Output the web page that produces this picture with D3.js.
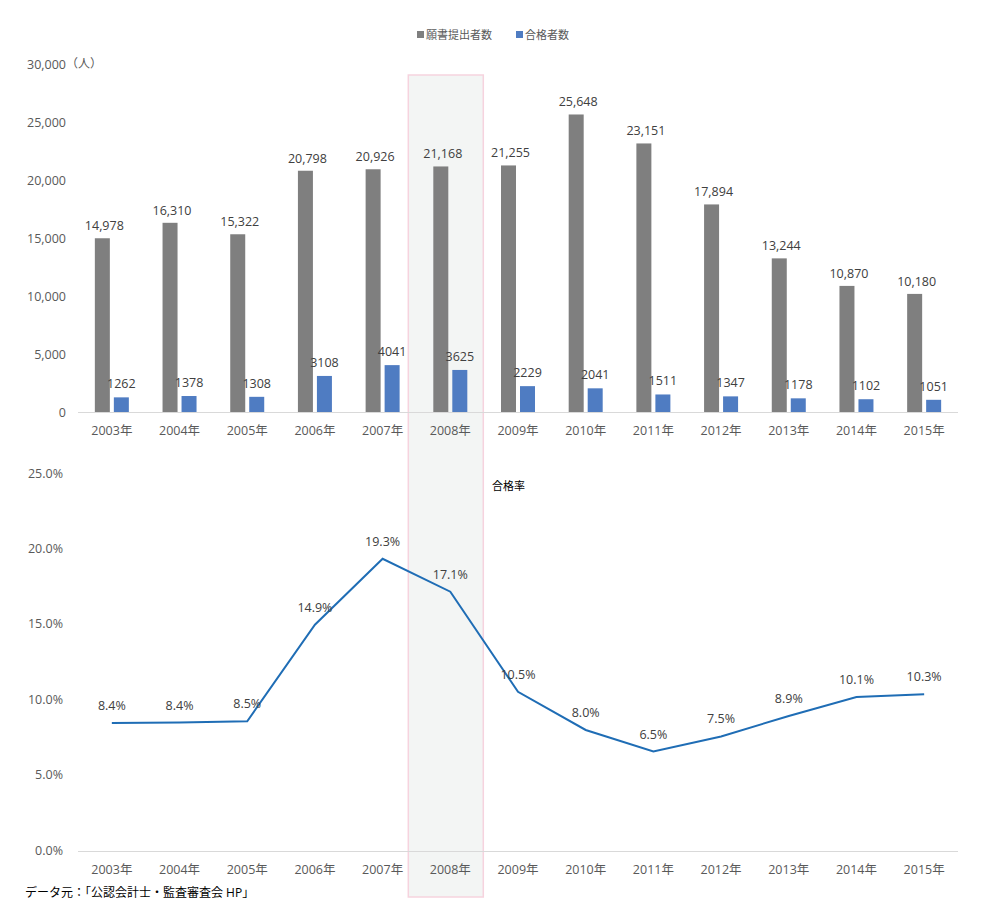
<!DOCTYPE html>
<html><head><meta charset="utf-8">
<script src="https://cdn.jsdelivr.net/npm/d3@7"></script>
<style>
body{margin:0;background:#fff;}
text{font-family:"Open Sans","Noto Sans CJK JP",sans-serif;}
</style></head>
<body>
<svg id="c" width="1000" height="904"></svg>
<script>
const years = ["2003年","2004年","2005年","2006年","2007年","2008年","2009年","2010年","2011年","2012年","2013年","2014年","2015年"];
const applicants = [14978,16310,15322,20798,20926,21168,21255,25648,23151,17894,13244,10870,10180];
const passers = [1262,1378,1308,3108,4041,3625,2229,2041,1511,1347,1178,1102,1051];
const passRate = [8.43,8.45,8.54,14.94,19.31,17.13,10.49,7.96,6.53,7.53,8.89,10.14,10.32];
const countTicks = [0,5000,10000,15000,20000,25000,30000];
const rateTicks = [0,5,10,15,20,25];
const highlightYear = "2008年";

const svg = d3.select("#c");
const grayC = "#7f7f7f", blueC = "#4f7cc2", lineC = "#1f6db5", txtC = "#595959";

const x = d3.scaleBand().domain(years).range([78, 958]).paddingInner(0).paddingOuter(0);
const yTop = d3.scaleLinear().domain([0,30000]).range([412,64]);
const yBot = d3.scaleLinear().domain([0,25]).range([850,473]);

// highlight
svg.append("rect").attr("x", x(highlightYear)+x.bandwidth()/2-42).attr("y",75)
  .attr("width",75).attr("height",822).attr("fill","#f3f5f4").attr("stroke","#f6d3de").attr("stroke-width",1.5);

// legend
const lg = svg.append("g").attr("font-size",11).attr("fill","#595959");
lg.append("rect").attr("x",417).attr("y",31).attr("width",7).attr("height",7).attr("fill",grayC);
lg.append("text").attr("x",426).attr("y",39).attr("fill","#595959").text("願書提出者数");
lg.append("rect").attr("x",516).attr("y",31).attr("width",7).attr("height",7).attr("fill",blueC);
lg.append("text").attr("x",525).attr("y",39).attr("fill","#595959").text("合格者数");

// top y axis
const fmt = d3.format(",");
const ga = svg.append("g").attr("transform","translate(66,0)")
  .call(d3.axisLeft(yTop).tickValues(countTicks).tickFormat(d=>fmt(d)).tickSize(0).tickPadding(0));
ga.select(".domain").remove();
ga.selectAll("text").attr("fill",txtC).attr("font-size",12.5).attr("font-family","'Open Sans',sans-serif");
svg.append("text").attr("x",66).attr("y",68).attr("font-size",12).attr("fill",txtC).text("（人）");

// baseline top
svg.append("line").attr("x1",78).attr("x2",958).attr("y1",412.5).attr("y2",412.5).attr("stroke","#d9d9d9");

const bw = 15, gap = 4;
const gBars = svg.append("g");
gBars.selectAll(".ga").data(years).join("rect")
  .attr("x", d=>x(d)+x.bandwidth()/2 - gap/2 - bw).attr("width",bw)
  .attr("y",(d,i)=>yTop(applicants[i])).attr("height",(d,i)=>412-yTop(applicants[i])).attr("fill",grayC);
gBars.selectAll(".gb").data(years).join("rect")
  .attr("x", d=>x(d)+x.bandwidth()/2 + gap/2).attr("width",bw)
  .attr("y",(d,i)=>yTop(passers[i])).attr("height",(d,i)=>412-yTop(passers[i])).attr("fill",blueC);

svg.append("g").selectAll("text").data(years).join("text")
  .attr("x", d=>x(d)+x.bandwidth()/2 - gap/2 - bw/2 + 2)
  .attr("y",(d,i)=>yTop(applicants[i])-8).attr("text-anchor","middle")
  .attr("font-size",12.5).attr("fill","#404040").text((d,i)=>fmt(applicants[i]));
svg.append("g").selectAll("text").data(years).join("text")
  .attr("x", d=>x(d)+x.bandwidth()/2 + gap/2 + bw/2)
  .attr("y",(d,i)=>yTop(passers[i])-9).attr("text-anchor","middle")
  .attr("font-size",12.5).attr("fill","#404040").text((d,i)=>passers[i]);

// top x axis labels
const xa1 = svg.append("g").attr("transform","translate(0,412)")
  .call(d3.axisBottom(x).tickSize(0).tickPadding(14));
xa1.select(".domain").remove();
xa1.selectAll("text").attr("fill",txtC).attr("font-size",12.5).attr("font-family","'Open Sans','Noto Sans CJK JP',sans-serif");

// bottom chart
const gb = svg.append("g").attr("transform","translate(63,0)")
  .call(d3.axisLeft(yBot).tickValues(rateTicks).tickFormat(d=>d.toFixed(1)+"%").tickSize(0).tickPadding(0));
gb.select(".domain").remove();
gb.selectAll("text").attr("fill",txtC).attr("font-size",12.5).attr("font-family","'Open Sans',sans-serif");

svg.append("line").attr("x1",78).attr("x2",958).attr("y1",851.5).attr("y2",851.5).attr("stroke","#d9d9d9");

svg.append("text").attr("x",492).attr("y",490).attr("font-size",11).attr("fill","#000").text("合格率");

const line = d3.line().x((d,i)=>x(years[i])+x.bandwidth()/2).y(d=>yBot(d));
svg.append("path").datum(passRate).attr("d",line).attr("fill","none").attr("stroke",lineC).attr("stroke-width",2);

svg.append("g").selectAll("text").data(years).join("text")
  .attr("x", d=>x(d)+x.bandwidth()/2)
  .attr("y",(d,i)=>yBot(passRate[i])-13).attr("text-anchor","middle")
  .attr("font-size",12.5).attr("fill","#404040").text((d,i)=>passRate[i].toFixed(1)+"%");

const xa2 = svg.append("g").attr("transform","translate(0,851)")
  .call(d3.axisBottom(x).tickSize(0).tickPadding(14));
xa2.select(".domain").remove();
xa2.selectAll("text").attr("fill",txtC).attr("font-size",12.5).attr("font-family","'Open Sans','Noto Sans CJK JP',sans-serif");

svg.append("text").attr("x",25).attr("y",897).attr("font-size",12).attr("fill","#000").text("データ元：「公認会計士・監査審査会 HP」");
</script>
</body></html>
